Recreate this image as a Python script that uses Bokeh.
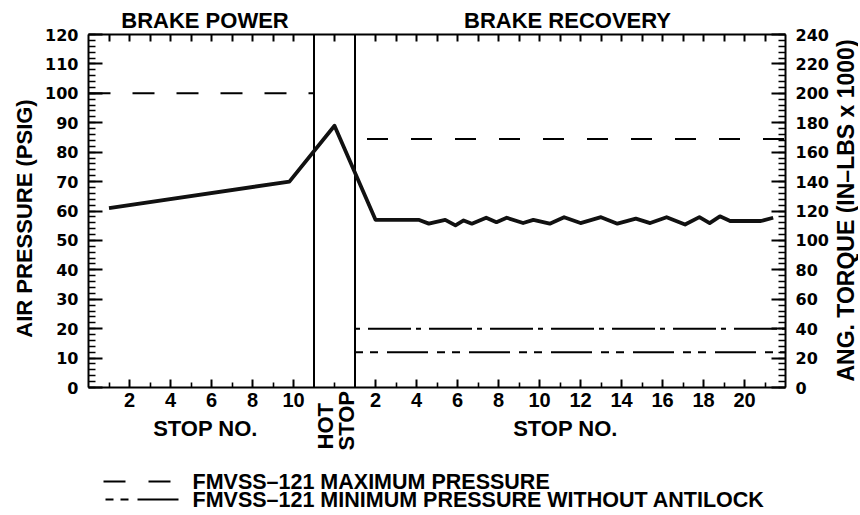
import math
from bokeh.plotting import figure
from bokeh.models import Range1d, LinearAxis, FixedTicker, SingleIntervalTicker
from bokeh.core.properties import value
from bokeh.embed import file_html
from bokeh.resources import INLINE

# ---------------- data ----------------
# x axis is a run of "stop slots": brake-power stops 1..10 at slots 1..10,
# a divider at slot 11, the hot stop at slot 12, a divider at slot 13,
# brake-recovery stop n at slot 12 + n (stops 1..22 -> slots 13..34)
power_stops = list(range(1, 11))
hot_stop_slot = 12
recovery_stops = list(range(1, 22))
dividers = [11, 13]

# air pressure (psig) along the test
press_x = [1, 9.8, 12, 14, 16.1, 16.6, 17.4, 17.9, 18.3, 18.7, 19.4, 19.9, 20.4,
           21.2, 21.7, 22.5, 23.2, 24.0, 25.0, 25.8, 26.7, 27.4, 28.2, 29.1,
           29.8, 30.3, 30.8, 31.3, 32.8, 33.4]
press_y = [61, 70, 89, 57, 57, 55.7, 57.0, 55.1, 56.8, 55.7, 57.7, 56.2, 57.7,
           55.9, 57.0, 55.7, 57.9, 55.9, 57.9, 55.7, 57.4, 55.9, 57.9, 55.4,
           57.9, 55.9, 58.2, 56.6, 56.6, 57.7]

# FMVSS-121 limits
max_power_x, max_power_y = [0, 11], [100, 100]
max_recov_x, max_recov_y = [13, 34], [84.5, 84.5]
min_a_x, min_a_y = [13, 34], [20, 20]
min_b_x, min_b_y = [13, 34], [12, 12]

section_titles = ["BRAKE POWER", "BRAKE RECOVERY"]
x_title = "STOP NO."
hot_stop_words = ["HOT", "STOP"]
left_title = "AIR PRESSURE (PSIG)"
right_title = "ANG. TORQUE (IN\u2013LBS x 1000)"
legend_labels = ["FMVSS\u2013121 MAXIMUM PRESSURE",
                 "FMVSS\u2013121 MINIMUM PRESSURE WITHOUT ANTILOCK"]

# ---------------- figure ----------------
W, H = 858, 513
XPX = 697 / 34.0     # pixels per stop slot
YPX = 353 / 120.0    # pixels per psig
def sx(px):
    return (px - 88) / XPX
def sy(py):
    return (387 - py) / YPX

p = figure(width=W, height=H,
           x_range=Range1d(sx(0), sx(W)), y_range=Range1d(sy(H), sy(0)),
           output_backend="svg", toolbar_location=None, min_border=0,
           background_fill_color="white", border_fill_color="white",
           outline_line_color=None)
p.extra_y_ranges = {"torque": Range1d(2 * sy(H), 2 * sy(0))}
p.xgrid.visible = False
p.ygrid.visible = False

# x ticks
major = [s for s in power_stops if s % 2 == 0] + \
        [12 + s for s in recovery_stops if s % 2 == 0]
minor = [s for s in power_stops if s % 2 == 1] + [hot_stop_slot] + \
        [12 + s for s in recovery_stops if s % 2 == 1 and s > 1]
overrides = {s: str(s) for s in power_stops if s % 2 == 0}
overrides.update({12 + s: str(s) for s in recovery_stops if s % 2 == 0})

def style_axis_lines(ax):
    ax.axis_line_width = 2
    ax.major_tick_out = 0
    ax.minor_tick_out = 0
    ax.major_tick_line_width = 2
    ax.minor_tick_line_width = 1.6

xb = p.xaxis[0]
xb.ticker = FixedTicker(ticks=major, minor_ticks=minor)
xb.major_label_overrides = overrides
xb.fixed_location = 0
xb.bounds = (0, 34)
style_axis_lines(xb)
xb.major_tick_in = 8
xb.minor_tick_in = 5
xb.major_label_text_font = "Liberation Sans"
xb.major_label_text_font_style = "bold"
xb.major_label_text_font_size = "20px"
xb.major_label_text_color = "black"
xb.major_label_standoff = 5

# top edge: tick marks only (all as minor ticks, so no labels)
xt = LinearAxis(fixed_location=120, bounds=(0, 34),
                ticker=FixedTicker(ticks=[], minor_ticks=sorted(major + minor)))
style_axis_lines(xt)
xt.minor_tick_in = 7
xt.minor_tick_line_width = 2
p.add_layout(xt, "above")

def style_y(ax):
    style_axis_lines(ax)
    ax.major_tick_in = 14
    ax.minor_tick_in = 7
    ax.major_label_text_font = "DejaVu Sans"
    ax.major_label_text_font_style = "bold"
    ax.major_label_text_font_size = "16px"
    ax.major_label_text_color = "black"
    ax.major_label_standoff = 10

yl = p.yaxis[0]
yl.ticker = SingleIntervalTicker(interval=10, num_minor_ticks=5)
yl.fixed_location = 0
yl.bounds = (0, 120)
style_y(yl)
yr = LinearAxis(y_range_name="torque", fixed_location=34, bounds=(0, 240),
                ticker=SingleIntervalTicker(interval=20, num_minor_ticks=5))
style_y(yr)
p.add_layout(yr, "right")

# dividers
p.segment(x0=dividers, y0=[0, 0], x1=dividers, y1=[120, 120], line_color="black", line_width=2)

# limit lines
p.line(max_power_x, max_power_y, line_color="black", line_width=2, line_dash="22 22")
p.line(max_recov_x, max_recov_y, line_color="black", line_width=2, line_dash="21 23",
       line_dash_offset=32)
p.line(min_a_x, min_a_y, line_color="black", line_width=2, line_dash="43 5 5 8",
       line_dash_offset=48)
p.line(min_b_x, min_b_y, line_color="black", line_width=2, line_dash="8 7 8 9 41 9")

# pressure trace
p.line(press_x, press_y, line_color="#111111", line_width=3.8, line_join="round")

# texts
FONT = value("Liberation Sans")
def txt(xs, ys, texts, size="22px", angle=0.0, align="center"):
    p.text(x=xs, y=ys, text=texts, angle=angle, text_align=align,
           text_baseline="middle", text_font=FONT, text_font_style="bold",
           text_font_size=size, text_color="black")

txt([sx(204.5), sx(567)], [sy(20), sy(20)], section_titles)
txt([sx(205), sx(565)], [sy(428), sy(428)], [x_title, x_title])
txt([sx(324.5), sx(346)], [sy(449), sy(450)], hot_stop_words, angle=math.pi / 2, align="left")
txt([sx(23.5)], [sy(218)], [left_title], size="22px", angle=math.pi / 2)
txt([sx(845)], [sy(210)], [right_title], size="23px", angle=math.pi / 2)

# legend
row_y = [sy(481), sy(499)]
p.line([sx(103), sx(170)], [row_y[0]] * 2, line_color="black", line_width=2, line_dash="22 23")
p.line([sx(105), sx(178)], [row_y[1]] * 2, line_color="black", line_width=2,
       line_dash="8 7 8 9 41 9")
txt([sx(192), sx(192)], row_y, legend_labels, size="21.5px", align="left")

open("out.html", "w").write(file_html(p, INLINE))
